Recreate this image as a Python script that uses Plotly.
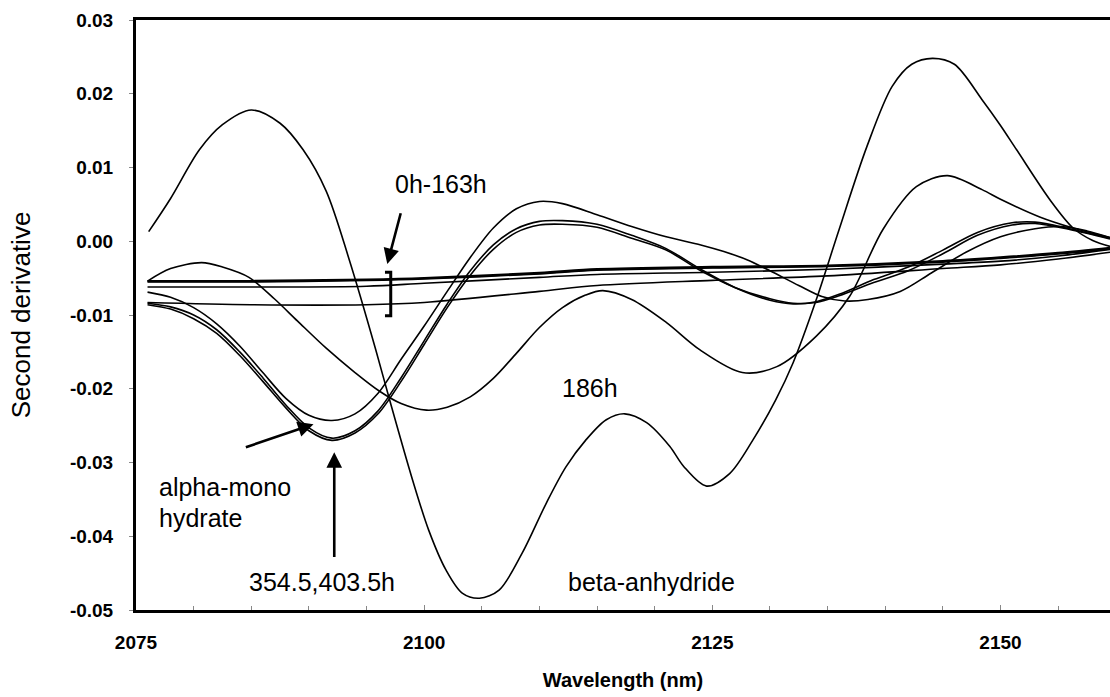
import plotly.graph_objects as go

# ---------------- data ----------------
wl_beta = [2076.1, 2078, 2080.5, 2082.5, 2085, 2087.5, 2089.5, 2091.5, 2093.5, 2095.8,
           2097, 2099, 2100.4, 2101.9, 2103.3, 2104.8, 2106.5, 2108.5, 2110.6, 2112.3,
           2114, 2115.8, 2117.4, 2119.3, 2121.3, 2122.5, 2124.5, 2126.5, 2128.5, 2130.5,
           2132, 2134, 2136, 2138.4, 2140.6, 2142.3, 2144.1, 2146, 2148.4, 2150,
           2151.4, 2154.3, 2156.3, 2158, 2159.5]
beta_anhydride = [0.0013, 0.0058, 0.0124, 0.0158, 0.0178, 0.0160, 0.0124, 0.0068, -0.0025, -0.0147,
                  -0.0215, -0.0324, -0.0392, -0.0446, -0.0477, -0.0484, -0.0473, -0.0423, -0.0355, -0.0306,
                  -0.0270, -0.0242, -0.0234, -0.0246, -0.0278, -0.0305, -0.0332, -0.0315, -0.0270, -0.0215,
                  -0.0165, -0.0080, 0.0016, 0.0128, 0.0210, 0.0240, 0.0248, 0.0240, 0.0192, 0.0157,
                  0.0124, 0.0056, 0.0018, 0.0001, -0.0007]

wl_186 = [2076, 2078, 2080.7, 2082.5, 2084.8, 2087, 2089, 2091.5, 2094, 2096.1,
          2098, 2100.2, 2102, 2104, 2106, 2108, 2110, 2112, 2114, 2115.5,
          2118, 2121, 2123.9, 2127.6, 2130.6, 2134, 2136.9, 2139.8, 2142.7, 2145.4,
          2148.4, 2150, 2153.4, 2156.3, 2159.5]
h186 = [-0.0054, -0.0037, -0.0029, -0.0035, -0.0049, -0.0078, -0.0108, -0.0145, -0.0178, -0.0203,
        -0.0220, -0.0229, -0.0225, -0.0211, -0.0186, -0.0152, -0.0117, -0.0090, -0.0073, -0.0067,
        -0.0079, -0.0110, -0.0147, -0.0178, -0.0170, -0.0129, -0.0075, 0.0016, 0.0074, 0.0089,
        0.0070, 0.0057, 0.0033, 0.0018, 0.0005]

wl_alpha = [2076, 2078, 2080, 2082, 2084, 2086, 2088, 2090, 2092, 2094,
            2096, 2098, 2100, 2102, 2104, 2106, 2108, 2110, 2112, 2115,
            2118, 2121, 2124, 2126, 2128, 2130, 2132.5, 2134.5, 2136.5, 2138.5,
            2141.3, 2144, 2147, 2150, 2153, 2155.3, 2157.5, 2159.5]
alpha_mono_hydrate = [-0.0069, -0.0076, -0.0090, -0.0112, -0.0142, -0.0178, -0.0213, -0.0236, -0.0243, -0.0234,
                      -0.0206, -0.0160, -0.0115, -0.0068, -0.0022, 0.0018, 0.0044, 0.0054, 0.0051, 0.0036,
                      0.0020, 0.0006, -0.0005, -0.0014, -0.0025, -0.0040, -0.0060, -0.0075, -0.0081, -0.0079,
                      -0.0068, -0.0043, -0.0015, 0.0006, 0.0017, 0.0020, 0.0014, 0.0005]

wl_h = [2076, 2078, 2080, 2082, 2084, 2086, 2088, 2090, 2092, 2094,
        2096, 2098, 2100, 2102, 2104, 2106, 2108, 2110, 2112, 2115,
        2118, 2121, 2124, 2127, 2130, 2132, 2134, 2136, 2139, 2142,
        2145, 2148, 2151, 2153, 2156, 2159.5]
h354_5 = [-0.0084, -0.0089, -0.0100, -0.0120, -0.0150, -0.0185, -0.0222, -0.0253, -0.0267, -0.0257,
          -0.0230, -0.0185, -0.0135, -0.0085, -0.0040, -0.0005, 0.0017, 0.0027, 0.0028, 0.0023,
          0.0008, -0.0010, -0.0038, -0.0063, -0.0080, -0.0085, -0.0082, -0.0072, -0.0052, -0.0035,
          -0.0012, 0.0012, 0.0025, 0.0026, 0.0017, 0.0004]
h403_5 = [-0.0086, -0.0092, -0.0105, -0.0125, -0.0155, -0.0190, -0.0226, -0.0257, -0.0270, -0.0260,
          -0.0234, -0.0190, -0.0140, -0.0090, -0.0046, -0.0011, 0.0012, 0.0022, 0.0023, 0.0019,
          0.0004, -0.0012, -0.0040, -0.0063, -0.0078, -0.0084, -0.0083, -0.0074, -0.0056, -0.0040,
          -0.0017, 0.0008, 0.0022, 0.0024, 0.0016, 0.0003]

wl_flat = [2076, 2085, 2095, 2100, 2110, 2115, 2125, 2135, 2145, 2150, 2155, 2159.5]
h0 = [-0.0054, -0.0054, -0.0052, -0.0050, -0.0043, -0.0038, -0.0035, -0.0033, -0.0027, -0.0022, -0.0016, -0.0009]
h_mid = [-0.0055, -0.0055, -0.0053, -0.0051, -0.0044, -0.0039, -0.0036, -0.0034, -0.0028, -0.0023, -0.0017, -0.0010]
h_b = [-0.0062, -0.0062, -0.0061, -0.0057, -0.0049, -0.0045, -0.0042, -0.0038, -0.0031, -0.0027, -0.0020, -0.0011]
h163 = [-0.0083, -0.0086, -0.0086, -0.0083, -0.0068, -0.0060, -0.0053, -0.0047, -0.0037, -0.0032, -0.0024, -0.0015]

x_ticks = [2075, 2100, 2125, 2150]
y_ticks = [0.03, 0.02, 0.01, 0.00, -0.01, -0.02, -0.03, -0.04, -0.05]
y_tick_text = ["0.03", "0.02", "0.01", "0.00", "-0.01", "-0.02", "-0.03", "-0.04", "-0.05"]

# ---------------- figure ----------------
fig = go.Figure()

def add(xs, ys, w=1.6):
    fig.add_trace(go.Scatter(x=xs, y=ys, mode="lines",
                             line=dict(color="black", width=w, shape="spline", smoothing=0.9),
                             showlegend=False, hoverinfo="skip"))

add(wl_flat, h0, 2.4)
add(wl_flat, h_mid, 2.0)
add(wl_flat, h_b, 1.6)
add(wl_flat, h163, 1.6)
add(wl_186, h186)
add(wl_alpha, alpha_mono_hydrate)
add(wl_h, h354_5)
add(wl_h, h403_5)
add(wl_beta, beta_anhydride)

FONT = "Liberation Sans, Arial, sans-serif"
txt = dict(family=FONT, size=25, color="black")

fig.update_layout(
    width=1110, height=697,
    margin=dict(l=136, r=0, t=20, b=87),
    paper_bgcolor="white", plot_bgcolor="white",
    showlegend=False,
    xaxis=dict(range=[2075, 2159.5], tickmode="array", tickvals=x_ticks,
               ticks="inside", ticklen=5, tickcolor="#888", tickwidth=1,
               minor=dict(dtick=5, ticks="inside", ticklen=4, tickcolor="#888"),
               showgrid=False, zeroline=False,
               showline=True, linecolor="black", linewidth=3, mirror=True,
               tickfont=dict(family=FONT, size=19, color="black", weight="bold"),
               ticklabelstandoff=13,
               title=dict(text="<b>Wavelength (nm)</b>",
                          font=dict(family=FONT, size=20, color="black"), standoff=22)),
    yaxis=dict(range=[-0.05, 0.03], tickmode="array", tickvals=y_ticks, ticktext=y_tick_text,
               ticks="outside", ticklen=4, tickcolor="#888", tickwidth=1,
               showgrid=False, zeroline=False,
               showline=True, linecolor="black", linewidth=3, mirror=False,
               tickfont=dict(family=FONT, size=19, color="black", weight="bold"),
               ticklabelstandoff=12,
               title=dict(text="Second derivative",
                          font=dict(family=FONT, size=26, color="black"), standoff=32)),
)

# bracket for 0h-163h group
fig.add_shape(type="path", xref="x", yref="y",
              path="M 2096.6,-0.0042 L 2097.1,-0.0042 L 2097.1,-0.0101 L 2096.6,-0.0101",
              line=dict(color="black", width=3))

# arrows
arrow = dict(showarrow=True, arrowhead=2, arrowsize=1.2, arrowwidth=2.6, arrowcolor="black",
             axref="x", ayref="y", xref="x", yref="y", text="", standoff=0)
fig.add_annotation(x=2096.8, y=-0.0031, ax=2098.0, ay=0.0040, **arrow)
fig.add_annotation(x=2090.4, y=-0.0248, ax=2084.4, ay=-0.0280, **arrow)
fig.add_annotation(x=2092.2, y=-0.0286, ax=2092.2, ay=-0.0430, **arrow)

# labels
def label(x, y, t, anchor="left"):
    fig.add_annotation(x=x, y=y, xref="x", yref="y", text=t, showarrow=False,
                       xanchor=anchor, yanchor="middle", align="left", font=txt)

label(2097.3, 0.0077, "0h-163h")
label(2111.8, -0.0199, "186h")
label(2076.8, -0.0333, "alpha-mono")
label(2076.8, -0.0375, "hydrate")
label(2084.6, -0.0462, "354.5,403.5h")
label(2112.3, -0.0462, "beta-anhydride")

fig.write_html("out.html")
